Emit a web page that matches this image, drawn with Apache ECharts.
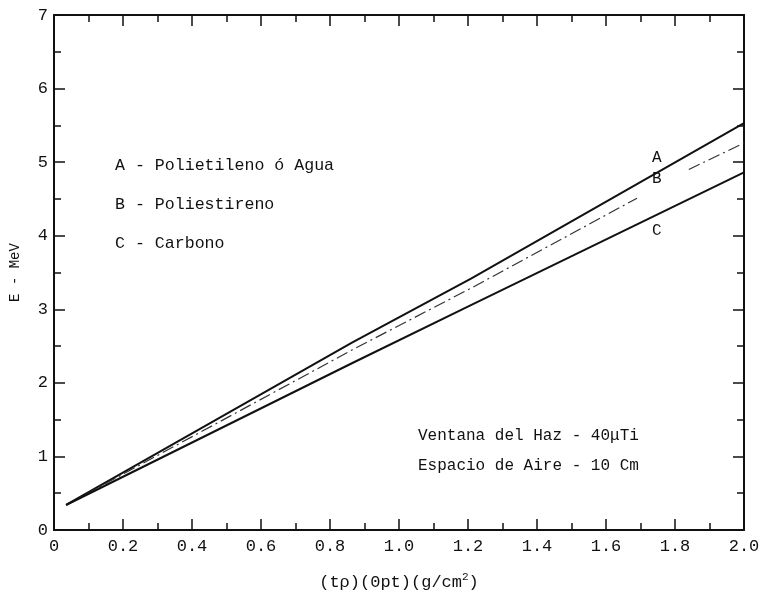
<!DOCTYPE html>
<html>
<head>
<meta charset="utf-8">
<script src="https://cdn.jsdelivr.net/npm/echarts@6/dist/echarts.min.js"></script>
<style>html,body{margin:0;padding:0;background:#fff}#c{width:763px;height:600px}</style>
</head>
<body>
<div id="c"></div>
<script>
// Data
const xA = [0.035, 0.865, 1.21, 2.0];
const yA = [0.34, 2.55, 3.42, 5.53];
const xB1 = [0.035, 0.865, 1.21, 1.69];
const yB1 = [0.34, 2.45, 3.29, 4.51];
const xB2 = [1.84, 2.0];
const yB2 = [4.90, 5.26];
const xC = [0.035, 0.865, 1.21, 2.0];
const yC = [0.34, 2.27, 3.06, 4.86];
const xTicks = ['0', '0.2', '0.4', '0.6', '0.8', '1.0', '1.2', '1.4', '1.6', '1.8', '2.0'];
const legendLines = ['A - Polietileno ó Agua', 'B - Poliestireno', 'C - Carbono'];
const noteLines = ['Ventana del Haz - 40μTi', 'Espacio de Aire - 10 Cm'];

const FONT = '"Liberation Mono", "DejaVu Sans Mono", monospace';
const ink = '#111';
const pairs = (xs, ys) => xs.map((x, i) => [x, ys[i]]);

const chart = echarts.init(document.getElementById('c'));
const xBase = {
  type: 'value', min: 0, max: 2.0, interval: 0.2,
  axisLine: { show: true, onZero: false, lineStyle: { color: ink, width: 2 } },
  axisTick: { show: true, inside: true, length: 11, lineStyle: { color: ink, width: 1.5 } },
  minorTick: { show: true, splitNumber: 2, length: 7, lineStyle: { color: ink, width: 1.5 } },
  splitLine: { show: false }
};
const yBase = {
  type: 'value', min: 0, max: 7, interval: 1,
  axisLine: { show: true, onZero: false, lineStyle: { color: ink, width: 2 } },
  axisTick: { show: true, inside: true, length: 11, lineStyle: { color: ink, width: 1.5 } },
  minorTick: { show: true, splitNumber: 2, length: 7, lineStyle: { color: ink, width: 1.5 } },
  splitLine: { show: false }
};
const option = {
  backgroundColor: '#fff',
  animation: false,
  grid: { left: 50, right: 19, top: 15, bottom: 70 },
  xAxis: [
    Object.assign({}, xBase, {
      position: 'bottom',
      axisLabel: { color: ink, fontFamily: FONT, fontSize: 17, margin: 8,
        formatter: v => xTicks[Math.round(v / 0.2)] },
      name: '{a|(tρ)(0pt)(g/cm}{s|2}{a|)}',
      nameLocation: 'middle', nameGap: 42,
      nameTextStyle: { rich: {
        a: { fontFamily: FONT, fontSize: 17, color: ink },
        s: { fontFamily: FONT, fontSize: 11, color: ink, verticalAlign: 'top', padding: [0, 0, 10, 0] }
      } }
    }),
    Object.assign({}, xBase, { position: 'top', axisLabel: { show: false } })
  ],
  yAxis: [
    Object.assign({}, yBase, {
      position: 'left',
      axisLabel: { color: ink, fontFamily: FONT, fontSize: 17, margin: 6 },
      name: 'E - MeV', nameLocation: 'middle', nameGap: 32, nameRotate: 90,
      nameTextStyle: { fontFamily: FONT, fontSize: 14, color: ink }
    }),
    Object.assign({}, yBase, { position: 'right', axisLabel: { show: false } })
  ],
  series: [
    { type: 'line', data: pairs(xA, yA), symbol: 'none', lineStyle: { color: ink, width: 2 } },
    { type: 'line', data: pairs(xB1, yB1), symbol: 'none', lineStyle: { color: '#333', width: 1.2, type: [12, 4, 2, 4] } },
    { type: 'line', data: pairs(xB2, yB2), symbol: 'none', lineStyle: { color: '#333', width: 1.2, type: [12, 4, 2, 4] } },
    { type: 'line', data: pairs(xC, yC), symbol: 'none', lineStyle: { color: ink, width: 2 } }
  ],
  graphic: [
    ...legendLines.map((t, i) => ({ type: 'text', left: 115, top: 157 + i * 39,
      style: { text: t, font: '16.6px ' + FONT, fill: ink } })),
    ...noteLines.map((t, i) => ({ type: 'text', left: 418, top: 428 + i * 30,
      style: { text: t, font: '16px ' + FONT, fill: ink } })),
    { type: 'text', left: 652, top: 150, style: { text: 'A', font: '16px ' + FONT, fill: ink } },
    { type: 'text', left: 652, top: 171, style: { text: 'B', font: '16px ' + FONT, fill: ink } },
    { type: 'text', left: 652, top: 223, style: { text: 'C', font: '16px ' + FONT, fill: ink } }
  ]
};
chart.setOption(option);
</script>
</body>
</html>
